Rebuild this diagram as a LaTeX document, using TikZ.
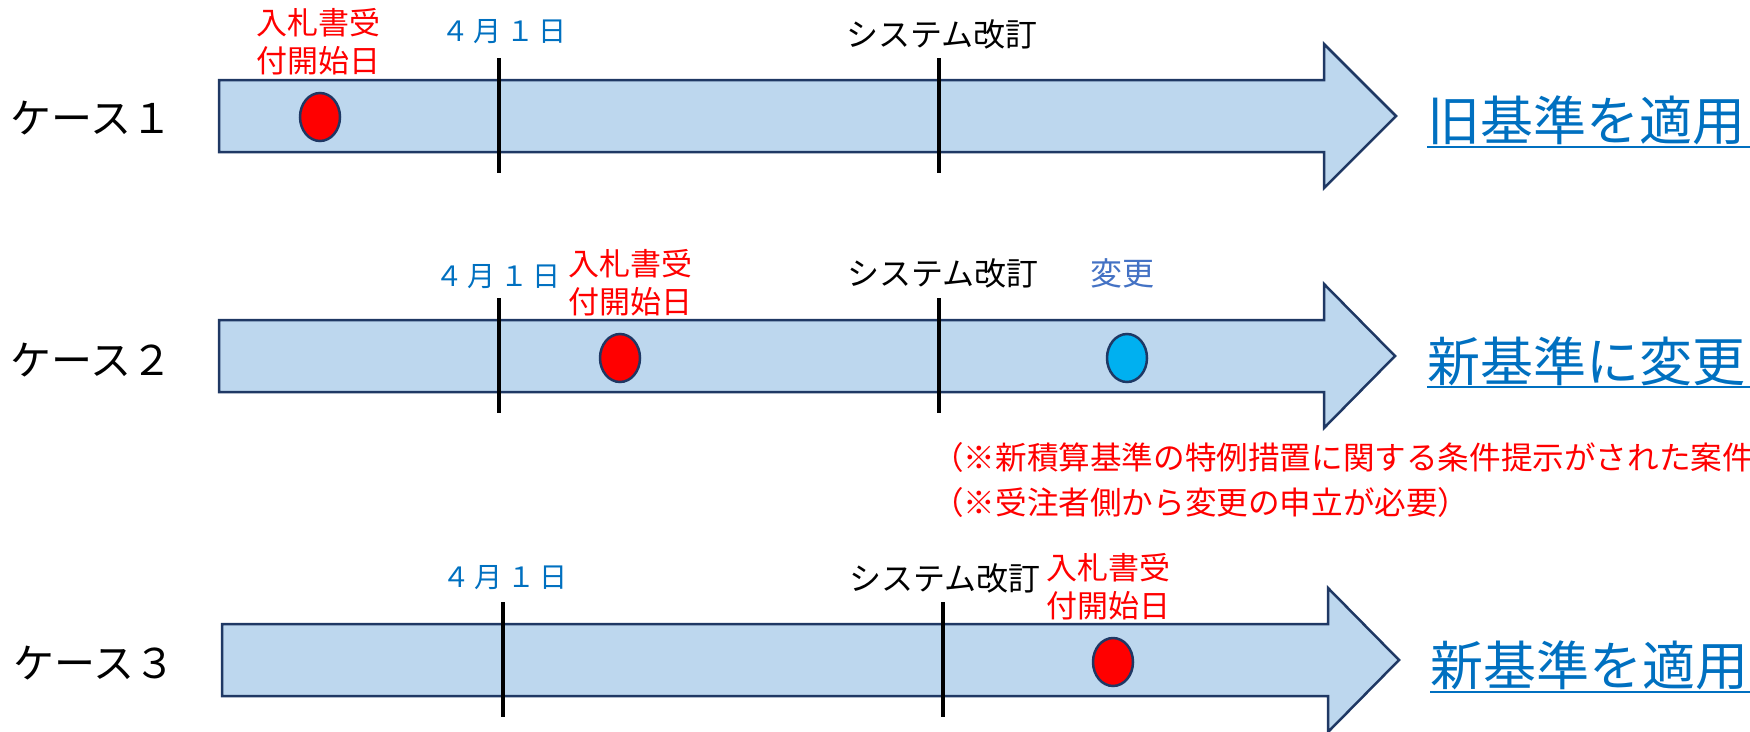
\documentclass[tikz,border=0pt]{standalone}
\usepackage{fontspec}
\newfontfamily\jp{Noto Sans CJK JP}
\definecolor{fillblue}{HTML}{BDD7EE}
\definecolor{navy}{HTML}{1F3864}
\definecolor{txtblue}{HTML}{0070C0}
\definecolor{chgblue}{HTML}{4472C4}
\definecolor{dotblue}{HTML}{00B0F0}
\definecolor{dotred}{HTML}{FF0000}
\newcommand\dategap{\kern4.5pt}
\begin{document}
\begin{tikzpicture}[x=1pt,y=-1pt,
  timearrow/.style={draw=navy,fill=fillblue,line width=2.5pt,line join=miter},
  tick/.style={draw=black,line width=4pt},
  dot/.style={draw=navy,line width=2.5pt},
  casetxt/.style={font=\jp\fontsize{41}{41}\selectfont,inner sep=0,anchor=west},
  redlabel/.style={font=\jp\fontsize{31}{38}\selectfont,text=dotred,align=center,inner sep=0},
  datelabel/.style={font=\jp\fontsize{28}{28}\selectfont,text=txtblue,inner sep=0},
  syslabel/.style={font=\jp\fontsize{32}{32}\selectfont,inner sep=0},
  result/.style={font=\jp\fontsize{53}{53}\selectfont,text=txtblue,inner sep=0,anchor=west},
  uline/.style={draw=txtblue,line width=2.5pt},
  note/.style={font=\jp\fontsize{31.6}{31.6}\selectfont,text=dotred,inner sep=0,anchor=west}]
\useasboundingbox (0,0) rectangle (1750,731);
% ---------- Case 1
\draw[timearrow] (219,80) -- (1324,80) -- (1324,44) -- (1396,116) -- (1324,188) -- (1324,152) -- (219,152) -- cycle;
\draw[tick] (499,58) -- (499,173);
\draw[tick] (939,58) -- (939,173);
\draw[dot,fill=dotred] (320,117) ellipse [x radius=20,y radius=24];
\node[casetxt] (c1) at (10,118) {ケース１};
\node[redlabel] (r1) at (318,42) {入札書受\\付開始日};
\node[datelabel] (d1) at (504,32) {４\dategap 月\dategap １\dategap 日};
\node[syslabel] (s1) at (942,34) {システム改訂};
\node[result] (res1) at (1427,120) {旧基準を適用};
\draw[uline] (1427,147) -- (1750,147);
% ---------- Case 2
\draw[timearrow] (219,320) -- (1324,320) -- (1324,284) -- (1395,356) -- (1324,428) -- (1324,392) -- (219,392) -- cycle;
\draw[tick] (499,298) -- (499,413);
\draw[tick] (939,298) -- (939,413);
\draw[dot,fill=dotred] (620,358) ellipse [x radius=20,y radius=24];
\draw[dot,fill=dotblue] (1127,358) ellipse [x radius=20,y radius=24];
\node[casetxt] (c2) at (10,360) {ケース２};
\node[datelabel] (d2) at (498,277) {４\dategap 月\dategap １\dategap 日};
\node[redlabel] (r2) at (630,283) {入札書受\\付開始日};
\node[syslabel] (s2) at (943,273) {システム改訂};
\node[syslabel,text=chgblue] (h2) at (1122,273) {変更};
\node[result] (res2) at (1427,361) {新基準に変更};
\draw[uline] (1427,387) -- (1750,387);
\node[note] (n1) at (932,457) {（※新積算基準の特例措置に関する条件提示がされた案件};
\node[note] (n2) at (932,502) {（※受注者側から変更の申立が必要）};
% ---------- Case 3
\draw[timearrow] (222,624) -- (1328,624) -- (1328,588) -- (1399,660) -- (1328,732) -- (1328,696) -- (222,696) -- cycle;
\draw[tick] (503,602) -- (503,717);
\draw[tick] (943,602) -- (943,717);
\draw[dot,fill=dotred] (1113,662) ellipse [x radius=20,y radius=24];
\node[casetxt] (c3) at (13,663) {ケース３};
\node[datelabel] (d3) at (505,578) {４\dategap 月\dategap １\dategap 日};
\node[syslabel] (s3) at (945,578) {システム改訂};
\node[redlabel] (r3) at (1108,587) {入札書受\\付開始日};
\node[result] (res3) at (1430,665) {新基準を適用};
\draw[uline] (1430,692) -- (1750,692);
\end{tikzpicture}
\end{document}
